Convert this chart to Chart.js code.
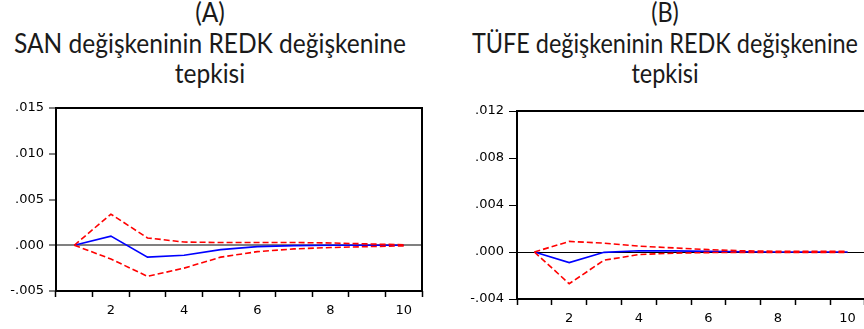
<!DOCTYPE html>
<html>
<head>
<meta charset="utf-8">
<script src="https://cdn.jsdelivr.net/npm/chart.js@4.4.1/dist/chart.umd.min.js"></script>
<style>
  html, body { margin: 0; padding: 0; background: #fff; }
  body { width: 864px; height: 329px; overflow: hidden; position: relative; }
  canvas { position: absolute; }
  .title {
    position: absolute; width: 520px; text-align: center;
    font-family: Lato, 'Noto Sans', sans-serif; font-size: 26px; line-height: 30.5px;
    color: #1a1a1a; white-space: nowrap; transform-origin: 50% 0;
  }
  .title span { display: inline-block; }
</style>
</head>
<body>
<div class="title" id="title-a" style="left:-50px; top:-3px;">
  <div>(A)</div><div><span class="fit">SAN değişkeninin REDK değişkenine</span></div><div>tepkisi</div>
</div>
<div class="title" id="title-b" style="left:405px; top:-3px;">
  <div>(B)</div><div><span class="fit">TÜFE değişkeninin REDK değişkenine</span></div><div>tepkisi</div>
</div>
<canvas id="chart-a" width="440" height="234" style="left:0px; top:95px;"></canvas>
<canvas id="chart-b" width="440" height="234" style="left:440px; top:95px;"></canvas>
<script>
// periods
var periods = ['1', '2', '3', '4', '5', '6', '7', '8', '9', '10'];

// (A) SAN response to REDK
var sanResponse = [0, 0.0010, -0.0013, -0.0011, -0.00048, -0.00015, -0.00004, 0, 0, 0];
var sanUpper = [0, 0.0034, 0.0008, 0.00035, 0.0003, 0.0003, 0.0003, 0.00025, 0.00015, 0.00005];
var sanLower = [0, -0.0015, -0.0034, -0.0025, -0.0013, -0.0007, -0.0004, -0.00025, -0.00015, -0.00007];

// (B) TUFE response to REDK
var tufeResponse = [0, -0.0009, -0.00003, 0.0001, 0.0001, 0.00005, 0.00002, 0, 0, 0];
var tufeUpper = [0, 0.0009, 0.00075, 0.0005, 0.00035, 0.0002, 0.0001, 0.00006, 0.00005, 0.00005];
var tufeLower = [0, -0.0027, -0.0007, -0.00022, -0.0001, -0.00005, -0.00003, -0.00003, -0.00003, -0.00003];

var tickFont = { family: "'DejaVu Sans', Verdana, sans-serif", size: 13 };
Chart.defaults.color = '#000';

// frame around the plot area
var boxPlugin = {
    id: 'box',
    afterDraw: function(chart) {
        var a = chart.chartArea;
        var ctx = chart.ctx;
        ctx.save();
        ctx.strokeStyle = '#000';
        ctx.lineWidth = 2;
        ctx.strokeRect(a.left, a.top, a.right - a.left, a.bottom - a.top);
        ctx.restore();
    }
};

function fmt(v) {
    if (Math.abs(v) < 1e-9) return '.000';
    return v.toFixed(3).replace('0.', '.');
}

function make_chart(id, mid, upper, lower, opts) {
    var ctx = document.getElementById(id);
    return new Chart(ctx, {
        type: 'line',
        data: {
            labels: periods,
            datasets: [
                { data: upper, borderColor: '#ff0000', borderWidth: 1.6, borderDash: [6, 3], pointRadius: 0, tension: 0 },
                { data: lower, borderColor: '#ff0000', borderWidth: 1.6, borderDash: [6, 3], pointRadius: 0, tension: 0 },
                { data: mid, borderColor: '#0000ff', borderWidth: 1.6, pointRadius: 0, tension: 0 }
            ]
        },
        options: {
            responsive: false,
            animation: false,
            events: [],
            layout: { padding: opts.padding },
            plugins: { legend: { display: false }, tooltip: { enabled: false } },
            scales: {
                x: {
                    type: 'category',
                    offset: true,
                    border: { display: false },
                    grid: { offset: true, drawOnChartArea: false, drawTicks: true, tickLength: 6, tickColor: '#000', tickWidth: 1.5 },
                    ticks: {
                        font: tickFont,
                        autoSkip: false, maxRotation: 0, padding: 6,
                        callback: function(val, idx) {
                            return (idx + 1) % 2 === 0 ? this.getLabelForValue(val) : '';
                        }
                    },
                    afterFit: function(s) { s.height = opts.xHeight; }
                },
                y: {
                    min: opts.min, max: opts.max,
                    border: { display: false },
                    grid: {
                        drawTicks: true, tickLength: opts.yTick, tickColor: '#000', tickWidth: 1,
                        color: function(c) {
                            return c.tick && Math.abs(c.tick.value) < 1e-9 ? opts.zeroColor : 'rgba(0,0,0,0)';
                        },
                        lineWidth: opts.zeroWidth
                    },
                    ticks: { font: tickFont, stepSize: opts.step, padding: 5, callback: fmt },
                    afterFit: function(s) { s.width = opts.yWidth; }
                }
            }
        },
        plugins: [boxPlugin]
    });
}

make_chart('chart-a', sanResponse, sanUpper, sanLower, {
    padding: { top: 13, right: 18, left: 0, bottom: 0 },
    min: -0.005, max: 0.015, step: 0.005,
    xHeight: 38, yWidth: 56, yTick: 7,
    zeroColor: '#808080', zeroWidth: 2
});

make_chart('chart-b', tufeResponse, tufeUpper, tufeLower, {
    padding: { top: 16, right: 15, left: 0, bottom: 0 },
    min: -0.004, max: 0.012, step: 0.004,
    xHeight: 30, yWidth: 77, yTick: 8,
    zeroColor: '#000', zeroWidth: 1
});

// squeeze titles horizontally to the width of the original lettering
function fit_title(id, target) {
    var el = document.getElementById(id);
    var w = el.querySelector('.fit').getBoundingClientRect().width;
    el.style.transform = 'scaleX(' + (target / w) + ')';
}
fit_title('title-a', 392);
fit_title('title-b', 386);
</script>
</body>
</html>
